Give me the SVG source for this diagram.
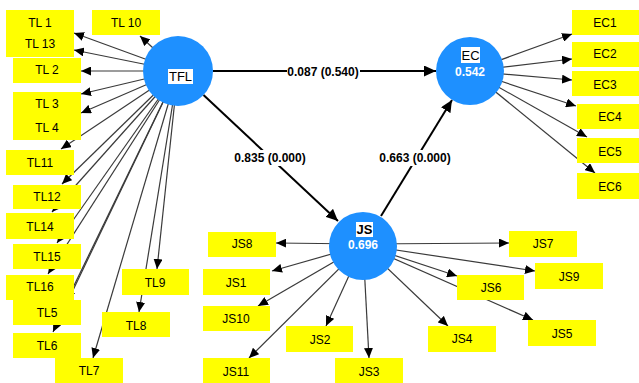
<svg xmlns="http://www.w3.org/2000/svg" width="639" height="383" viewBox="0 0 639 383">
<style>
.ln{stroke:#3a3a3a;stroke-width:1.2;fill:none;marker-end:url(#a)}
.sl{stroke:#000;stroke-width:2;fill:none;marker-end:url(#b)}
.box{fill:#ffff00}
.bt{font-family:"Liberation Sans",Arial,sans-serif;font-size:12px;fill:#000;text-anchor:middle}
.lv{font-family:"Liberation Sans",Arial,sans-serif;font-size:12px;font-weight:bold;fill:#000;text-anchor:middle}
.cir{fill:#1e90ff}
.cn{font-family:"Liberation Sans",Arial,sans-serif;font-size:13px;fill:#000;text-anchor:middle}
.cv{font-family:"Liberation Sans",Arial,sans-serif;font-size:12px;font-weight:bold;fill:#fff;text-anchor:middle}
</style>
<defs>
<marker id="a" markerUnits="userSpaceOnUse" markerWidth="11" markerHeight="9" refX="10" refY="4.5" orient="auto"><path d="M0,0 L10,4.5 L0,9 z" fill="#000"/></marker>
<marker id="b" markerUnits="userSpaceOnUse" markerWidth="13" markerHeight="11" refX="12" refY="5.5" orient="auto"><path d="M0,0 L12,5.5 L0,11 z" fill="#000"/></marker>
</defs>
<rect width="639" height="383" fill="#fff"/>
<g id="connectors">
<line class="ln" x1="178" y1="71" x2="74" y2="33"/>
<line class="ln" x1="178" y1="71" x2="74" y2="50"/>
<line class="ln" x1="178" y1="71" x2="81" y2="71"/>
<line class="ln" x1="178" y1="71" x2="81" y2="94"/>
<line class="ln" x1="178" y1="71" x2="81" y2="113"/>
<line class="ln" x1="178" y1="71" x2="61" y2="149"/>
<line class="ln" x1="178" y1="71" x2="62" y2="184"/>
<line class="ln" x1="178" y1="71" x2="52" y2="212"/>
<line class="ln" x1="178" y1="71" x2="57" y2="243"/>
<line class="ln" x1="178" y1="71" x2="48" y2="274"/>
<line class="ln" x1="178" y1="71" x2="67" y2="300"/>
<line class="ln" x1="178" y1="71" x2="53" y2="332"/>
<line class="ln" x1="178" y1="71" x2="93" y2="358"/>
<line class="ln" x1="178" y1="71" x2="139" y2="312"/>
<line class="ln" x1="178" y1="71" x2="157" y2="269"/>
<line class="ln" x1="178" y1="71" x2="140" y2="36"/>
<line class="ln" x1="470" y1="71" x2="572" y2="34"/>
<line class="ln" x1="470" y1="71" x2="572" y2="59"/>
<line class="ln" x1="470" y1="71" x2="572" y2="80"/>
<line class="ln" x1="470" y1="71" x2="576" y2="106"/>
<line class="ln" x1="470" y1="71" x2="587" y2="137"/>
<line class="ln" x1="470" y1="71" x2="595" y2="173"/>
<line class="ln" x1="363" y1="244" x2="276" y2="243"/>
<line class="ln" x1="363" y1="245" x2="272" y2="271"/>
<line class="ln" x1="363" y1="245" x2="258" y2="306"/>
<line class="ln" x1="363" y1="245" x2="326" y2="326"/>
<line class="ln" x1="363" y1="245" x2="249" y2="358"/>
<line class="ln" x1="363" y1="245" x2="369" y2="358"/>
<line class="ln" x1="363" y1="244" x2="509" y2="243"/>
<line class="ln" x1="363" y1="245" x2="535" y2="271"/>
<line class="ln" x1="363" y1="245" x2="457" y2="276"/>
<line class="ln" x1="363" y1="245" x2="533" y2="320"/>
<line class="ln" x1="363" y1="245" x2="448" y2="326"/>
<line class="sl" x1="213" y1="71" x2="436" y2="71"/>
<line class="sl" x1="203.5" y1="95" x2="338" y2="221"/>
<line class="sl" x1="381" y1="216" x2="452" y2="100"/>
<rect x="287" y="64" width="73" height="16" fill="#fff"/>
<text class="lv" x="323" y="76">0.087 (0.540)</text>
<rect x="234" y="150" width="73" height="16" fill="#fff"/>
<text class="lv" x="270" y="162">0.835 (0.000)</text>
<rect x="379" y="150" width="73" height="16" fill="#fff"/>
<text class="lv" x="415" y="162">0.663 (0.000)</text>
</g>
<g id="TL1"><rect class="box" x="6" y="10" width="68" height="26"/><text class="bt" x="40" y="27">TL 1</text></g>
<g id="TL13"><rect class="box" x="6" y="31" width="68" height="26"/><text class="bt" x="40" y="48">TL 13</text></g>
<g id="TL10"><rect class="box" x="92" y="10" width="68" height="25"/><text class="bt" x="126" y="27">TL 10</text></g>
<g id="TL2"><rect class="box" x="13" y="58" width="68" height="25"/><text class="bt" x="47" y="74">TL 2</text></g>
<g id="TL3"><rect class="box" x="13" y="92" width="68" height="25"/><text class="bt" x="47" y="108">TL 3</text></g>
<g id="TL4"><rect class="box" x="13" y="115" width="68" height="25"/><text class="bt" x="47" y="132">TL 4</text></g>
<g id="TL11"><rect class="box" x="6" y="150" width="68" height="25"/><text class="bt" x="40" y="167">TL11</text></g>
<g id="TL12"><rect class="box" x="13" y="185" width="68" height="24"/><text class="bt" x="47" y="201">TL12</text></g>
<g id="TL14"><rect class="box" x="6" y="213" width="68" height="26"/><text class="bt" x="40" y="231">TL14</text></g>
<g id="TL15"><rect class="box" x="13" y="244" width="68" height="25"/><text class="bt" x="47" y="261">TL15</text></g>
<g id="TL5"><rect class="box" x="13" y="300" width="68" height="25"/><text class="bt" x="47" y="317">TL5</text></g>
<g id="TL16"><rect class="box" x="6" y="275" width="68" height="25"/><text class="bt" x="40" y="291">TL16</text></g>
<g id="TL6"><rect class="box" x="13" y="333" width="68" height="25"/><text class="bt" x="47" y="350">TL6</text></g>
<g id="TL7"><rect class="box" x="55" y="358" width="68" height="25"/><text class="bt" x="89" y="375">TL7</text></g>
<g id="TL8"><rect class="box" x="102" y="312" width="68" height="25"/><text class="bt" x="136" y="330">TL8</text></g>
<g id="TL9"><rect class="box" x="122" y="269" width="67" height="26"/><text class="bt" x="155" y="287">TL9</text></g>
<g id="EC1"><rect class="box" x="572" y="10" width="68" height="25"/><text class="bt" x="605" y="27">EC1</text></g>
<g id="EC2"><rect class="box" x="572" y="42" width="68" height="25"/><text class="bt" x="605" y="58">EC2</text></g>
<g id="EC3"><rect class="box" x="572" y="71" width="68" height="25"/><text class="bt" x="605" y="89">EC3</text></g>
<g id="EC4"><rect class="box" x="577" y="104" width="68" height="25"/><text class="bt" x="610" y="121">EC4</text></g>
<g id="EC5"><rect class="box" x="577" y="138" width="68" height="25"/><text class="bt" x="610" y="156">EC5</text></g>
<g id="EC6"><rect class="box" x="577" y="173" width="68" height="26"/><text class="bt" x="610" y="191">EC6</text></g>
<g id="JS8"><rect class="box" x="208" y="232" width="68" height="25"/><text class="bt" x="242" y="248">JS8</text></g>
<g id="JS1"><rect class="box" x="203" y="269" width="67" height="26"/><text class="bt" x="236" y="287">JS1</text></g>
<g id="JS10"><rect class="box" x="203" y="306" width="67" height="25"/><text class="bt" x="236" y="323">JS10</text></g>
<g id="JS2"><rect class="box" x="286" y="326" width="67" height="26"/><text class="bt" x="320" y="344">JS2</text></g>
<g id="JS11"><rect class="box" x="203" y="358" width="67" height="25"/><text class="bt" x="236" y="376">JS11</text></g>
<g id="JS3"><rect class="box" x="335" y="358" width="68" height="25"/><text class="bt" x="369" y="376">JS3</text></g>
<g id="JS7"><rect class="box" x="509" y="231" width="68" height="26"/><text class="bt" x="543" y="248">JS7</text></g>
<g id="JS9"><rect class="box" x="535" y="263" width="68" height="26"/><text class="bt" x="569" y="281">JS9</text></g>
<g id="JS6"><rect class="box" x="457" y="275" width="67" height="25"/><text class="bt" x="491" y="292">JS6</text></g>
<g id="JS5"><rect class="box" x="528" y="320" width="68" height="26"/><text class="bt" x="562" y="338">JS5</text></g>
<g id="JS4"><rect class="box" x="428" y="326" width="68" height="26"/><text class="bt" x="462" y="343">JS4</text></g>
<g id="TFL"><circle class="cir" cx="178" cy="71" r="35"/><rect x="168" y="69" width="25" height="15" fill="#fff"/><text class="cn" x="180.5" y="81">TFL</text></g>
<g id="EC"><circle class="cir" cx="470" cy="71" r="34"/><rect x="461" y="47" width="19" height="16" fill="#fff"/><text class="cn" x="470.5" y="60">EC</text><text class="cv" x="470" y="76">0.542</text></g>
<g id="JS"><circle class="cir" cx="363" cy="246" r="34"/><rect x="356" y="222" width="17" height="15" fill="#fff"/><text class="cn" x="364.5" y="234" font-weight="bold">JS</text><text class="cv" x="363" y="249">0.696</text></g>
</svg>
